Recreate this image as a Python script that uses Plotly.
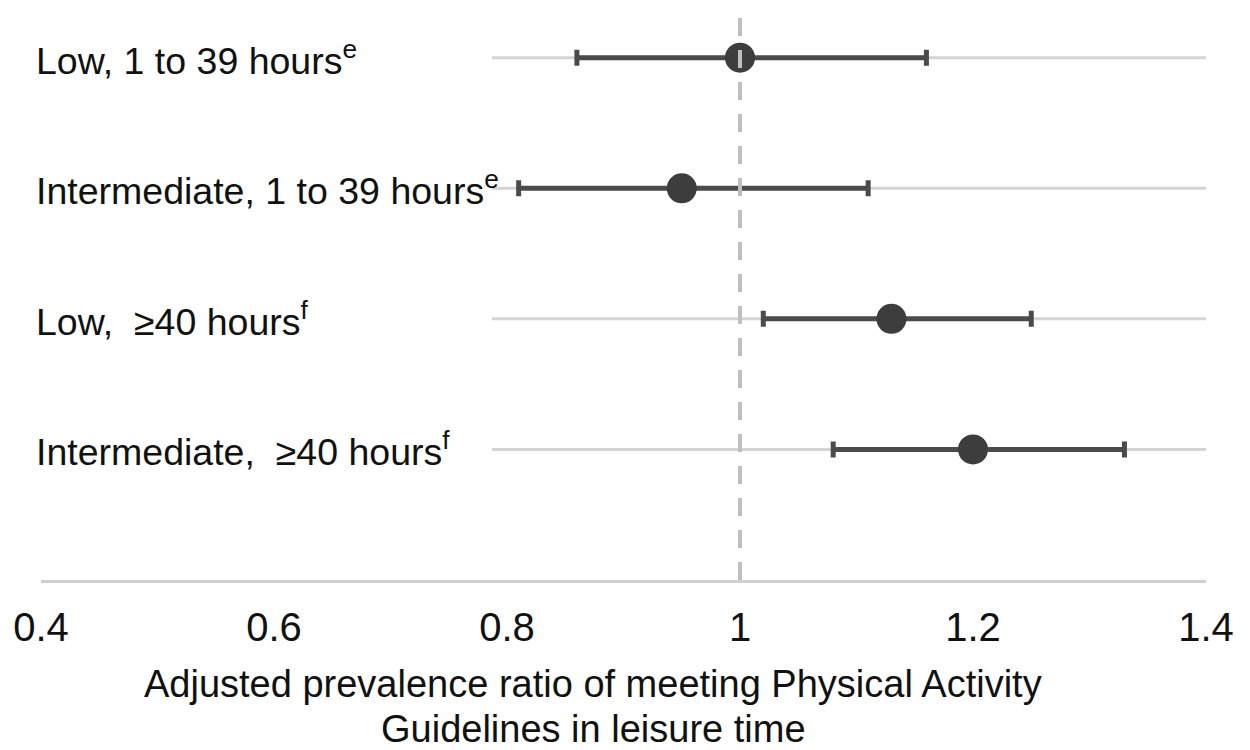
import plotly.graph_objects as go

labels = [
    "Low, 1 to 39 hours<sup>e</sup>",
    "Intermediate, 1 to 39 hours<sup>e</sup>",
    "Low,  \u226540 hours<sup>f</sup>",
    "Intermediate,  \u226540 hours<sup>f</sup>",
]
row_pos = [4, 3, 2, 1]
estimate = [1.00, 0.95, 1.13, 1.20]
ci_low = [0.86, 0.81, 1.02, 1.08]
ci_high = [1.16, 1.11, 1.25, 1.33]
tick_vals = [0.4, 0.6, 0.8, 1.0, 1.2, 1.4]
tick_text = ["0.4", "0.6", "0.8", "1", "1.2", "1.4"]
x_title_lines = ["Adjusted prevalence ratio of meeting Physical Activity",
                 "Guidelines in leisure time"]

FONT = "Liberation Sans, Arial, sans-serif"

fig = go.Figure()
fig.add_trace(go.Scatter(
    x=estimate, y=row_pos, mode="markers",
    marker=dict(size=30, color="#3d3d3d"),
    error_x=dict(type="data", symmetric=False,
                 array=[h - e for h, e in zip(ci_high, estimate)],
                 arrayminus=[e - l for e, l in zip(estimate, ci_low)],
                 color="#4a4a4a", thickness=5, width=8),
    showlegend=False, hoverinfo="skip",
))

shapes = []
for y in row_pos:
    shapes.append(dict(type="line", xref="x", yref="y", x0=0.787, x1=1.4, y0=y, y1=y,
                       line=dict(color="#d4d4d4", width=3), layer="below"))
shapes.append(dict(type="line", xref="x", yref="paper", x0=1, x1=1, y0=0, y1=1,
                   line=dict(color="#bfbfbf", width=4, dash="18px,14px"), layer="above"))
fig.update_layout(shapes=shapes)

annotations = []
for lab, y in zip(labels, row_pos):
    annotations.append(dict(xref="paper", yref="y", x=0, xshift=-7, y=y, text=lab,
                            showarrow=False, xanchor="left", yanchor="middle",
                            font=dict(size=37.5, color="#111111", family=FONT)))
for txt, yy in zip(x_title_lines, [-0.183, -0.262]):
    annotations.append(dict(xref="paper", yref="paper", x=0.474, y=yy, text=txt,
                            showarrow=False, xanchor="center", yanchor="middle",
                            font=dict(size=38, color="#111111", family=FONT)))
fig.update_layout(annotations=annotations)

fig.update_layout(
    width=1250, height=750,
    margin=dict(l=33, r=52, t=4, b=178),
    paper_bgcolor="white", plot_bgcolor="white",
    font=dict(family=FONT, color="#111111"),
    xaxis=dict(range=[0.4, 1.4], tickvals=tick_vals, ticktext=tick_text,
               showgrid=False, zeroline=False, showline=True, linecolor="#d0d0d0", linewidth=3,
               ticks="outside", ticklen=10, tickcolor="rgba(0,0,0,0)",
               tickfont=dict(size=40, color="#111111")),
    yaxis=dict(range=[0, 4.35], visible=False),
)

fig.write_html("out.html")
